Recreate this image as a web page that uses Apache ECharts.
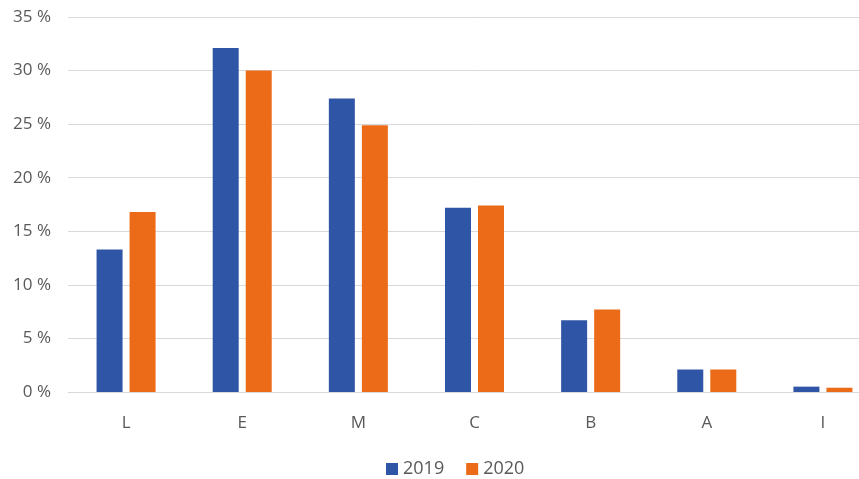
<!DOCTYPE html>
<html>
<head>
<meta charset="utf-8">
<title></title>
<script src="https://cdn.jsdelivr.net/npm/echarts@6/dist/echarts.min.js"></script>
<style>
html, body { margin: 0; padding: 0; background: #fff; overflow: hidden; }
</style>
</head>
<body>
<!-- wider than the window: the original is cropped on the right -->
<div id="chart" style="width:881px; height:479px;"></div>
<script>
var categories = ['L', 'E', 'M', 'C', 'B', 'A', 'I'];
var v2019 = [13.3, 32.1, 27.4, 17.2, 6.7, 2.1, 0.5];
var v2020 = [16.8, 30.0, 24.9, 17.4, 7.7, 2.1, 0.4];

var chart = echarts.init(document.getElementById('chart'));
chart.setOption({
	animation: false,
	textStyle: { fontFamily: 'Open Sans' },
	grid: { left: 68, right: 0, top: 17, bottom: 87 },
	legend: {
		top: 455,
		left: 381,
		itemWidth: 12,
		itemHeight: 12,
		itemGap: 22,
		icon: 'rect',
		textStyle: { color: '#595959', fontSize: 18 },
		data: ['2019', '2020']
	},
	xAxis: {
		type: 'category',
		data: categories,
		axisLine: { lineStyle: { color: '#d9d9d9' } },
		axisTick: { show: false },
		axisLabel: { color: '#595959', fontSize: 17, margin: 23 }
	},
	yAxis: {
		type: 'value',
		min: 0,
		max: 35,
		interval: 5,
		axisLine: { show: false },
		axisTick: { show: false },
		splitLine: { lineStyle: { color: '#d9d9d9' } },
		axisLabel: {
			color: '#595959',
			fontSize: 17,
			margin: 17,
			formatter: function (v) { return v + ' %'; }
		}
	},
	series: [{
		name: '2019',
		type: 'bar',
		data: v2019,
		barWidth: 26,
		barGap: '27%',
		itemStyle: { color: '#2f56a6' }
	}, {
		name: '2020',
		type: 'bar',
		data: v2020,
		barWidth: 26,
		itemStyle: { color: '#ec6b18' }
	}]
});
</script>
</body>
</html>
